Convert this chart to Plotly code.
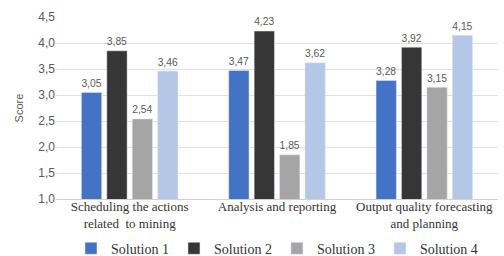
import plotly.graph_objects as go

categories = ["Scheduling the actions<br>related  to mining", "Analysis and reporting",
              "Output quality forecasting<br>and planning"]
series_names = ["Solution 1", "Solution 2", "Solution 3", "Solution 4"]
sol1 = [3.05, 3.47, 3.28]
sol2 = [3.85, 4.23, 3.92]
sol3 = [2.54, 1.85, 3.15]
sol4 = [3.46, 3.62, 4.15]
colors = ["#4472C4", "#363636", "#A5A5A5", "#B4C7E7"]
y_ticks = [1.0, 1.5, 2.0, 2.5, 3.0, 3.5, 4.0, 4.5]

fig = go.Figure()
for name, vals, c in zip(series_names, [sol1, sol2, sol3, sol4], colors):
    fig.add_trace(go.Bar(
        x=categories, y=vals, name=name, marker_color=c,
        text=vals, texttemplate="%{y:.2f}", textposition="outside",
        textfont=dict(family="Liberation Sans, Arial", size=12, color="#595959"),
        cliponaxis=False,
    ))

fig.update_layout(
    width=504, height=256,
    margin=dict(l=56, r=6, t=17, b=57, autoexpand=False),
    paper_bgcolor="white", plot_bgcolor="white",
    separators=",.",
    barmode="group", bargap=0.31, bargroupgap=0.2,
    showlegend=True,
    legend=dict(orientation="h", x=0.5, xanchor="center", y=-0.185, yanchor="top",
                font=dict(family="Liberation Serif, DejaVu Serif", size=14, color="#333333"),
                itemwidth=30, traceorder="normal"),
    font=dict(family="Liberation Sans, Arial", size=11, color="#595959"),
)
fig.update_yaxes(range=[1.0, 4.5], tickvals=y_ticks, tickformat=".1f",
                 showgrid=True, gridcolor="#E0E0E0", gridwidth=1, zeroline=False,
                 showline=False, ticks="",
                 title=dict(text="Score", font=dict(size=11, color="#595959"), standoff=12),
                 tickfont=dict(size=12, color="#595959"))
fig.update_xaxes(showline=True, linecolor="#D0D0D0", ticks="", ticklabelstandoff=-5,
                 tickfont=dict(family="Liberation Serif, DejaVu Serif", size=13, color="#333333"))

fig.write_html("out.html", config={"displayModeBar": False},
               post_script="document.body.style.margin='0';")
